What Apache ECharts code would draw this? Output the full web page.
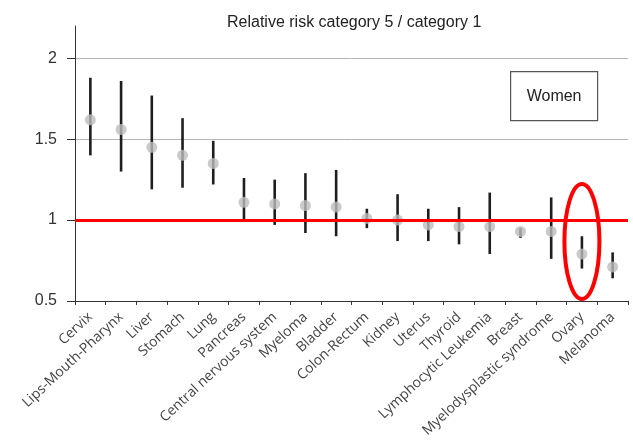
<!DOCTYPE html>
<html>
<head>
<meta charset="utf-8">
<script src="https://cdn.jsdelivr.net/npm/echarts@6/dist/echarts.min.js"></script>
<style>
  html, body { margin: 0; padding: 0; background: #fff; }
  #main { width: 633px; height: 440px; }
</style>
</head>
<body>
<div id="main"></div>
<script>
var cancers = ['Cervix', 'Lips-Mouth-Pharynx', 'Liver', 'Stomach', 'Lung', 'Pancreas',
  'Central nervous system', 'Myeloma', 'Bladder', 'Colon-Rectum', 'Kidney', 'Uterus',
  'Thyroid', 'Lymphocytic Leukemia', 'Breast', 'Myelodysplastic syndrome', 'Ovary', 'Melanoma'];
var riskRatio = [1.62, 1.56, 1.45, 1.40, 1.35, 1.11, 1.10, 1.09, 1.08, 1.01, 1.00, 0.97, 0.96, 0.96, 0.93, 0.93, 0.79, 0.71];
var ciLow  = [1.40, 1.30, 1.19, 1.20, 1.22, 1.00, 0.97, 0.92, 0.90, 0.95, 0.87, 0.87, 0.85, 0.79, 0.89, 0.76, 0.70, 0.64];
var ciHigh = [1.88, 1.86, 1.77, 1.63, 1.49, 1.26, 1.25, 1.29, 1.31, 1.07, 1.16, 1.07, 1.08, 1.17, 0.95, 1.14, 0.90, 0.80];
var yTicks = [0.5, 1, 1.5, 2];
var refLine = 1;
var highlighted = 'Ovary';

var barData = cancers.map(function (c, i) { return [i, ciLow[i], ciHigh[i]]; });

var myChart = echarts.init(document.getElementById('main'));
var option = {
  backgroundColor: '#fff',
  animation: false,
  title: {
    text: 'Relative risk category 5 / category 1',
    left: 222,
    top: 10,
    textStyle: { fontFamily: 'Liberation Sans, Arial', fontSize: 16, fontWeight: 'normal', color: '#222' }
  },
  grid: { left: 75, right: 5, top: 26, bottom: 138 },
  xAxis: {
    type: 'category',
    data: cancers,
    boundaryGap: true,
    axisLine: { lineStyle: { color: '#333', width: 1 } },
    axisTick: { show: true, interval: 0, length: 4, lineStyle: { color: '#333' } },
    axisLabel: {
      interval: 0,
      rotate: 43,
      margin: 14,
      fontFamily: 'Open Sans',
      fontSize: 14,
      color: '#444'
    },
    splitLine: { show: false }
  },
  yAxis: {
    type: 'value',
    min: 0.5,
    max: 2.2,
    interval: 0.5,
    axisLine: { show: true, lineStyle: { color: '#333', width: 1 } },
    axisTick: { show: true, length: 8, customValues: yTicks, lineStyle: { color: '#333' } },
    axisLabel: {
      customValues: yTicks,
      margin: 18,
      fontFamily: 'Liberation Sans, Arial',
      fontSize: 16,
      color: '#333'
    },
    splitLine: { show: true, showMaxLine: true, showMinLine: false, lineStyle: { color: '#b5b5b5', width: 1 } }
  },
  series: [
    {
      type: 'custom',
      data: barData,
      renderItem: function (params, api) {
        var lo = api.coord([api.value(0), api.value(1)]);
        var hi = api.coord([api.value(0), api.value(2)]);
        return {
          type: 'line',
          shape: { x1: lo[0], y1: lo[1], x2: hi[0], y2: hi[1] },
          style: { stroke: '#1e1e1e', lineWidth: 2.6 }
        };
      },
      markLine: {
        silent: true,
        symbol: 'none',
        label: { show: false },
        lineStyle: { color: '#ff0000', width: 3, type: 'solid' },
        data: [{ yAxis: refLine }]
      },
      z: 3
    },
    {
      type: 'scatter',
      data: riskRatio,
      symbol: 'circle',
      symbolSize: 11,
      itemStyle: { color: '#bdbdbd' },
      z: 4
    }
  ]
};
myChart.setOption(option);

// red ring around the highlighted category
var idx = cancers.indexOf(highlighted);
var centre = myChart.convertToPixel({ gridIndex: 0 }, [idx, 0.868]);
myChart.setOption({
  graphic: [
    {
      type: 'ellipse',
      shape: { cx: centre[0], cy: centre[1], rx: 17.5, ry: 57.5 },
      style: { fill: 'none', stroke: '#ff0000', lineWidth: 4 },
      z: 10
    },
    {
      type: 'group',
      left: 510,
      top: 71,
      children: [
        {
          type: 'rect',
          shape: { x: 0, y: 0, width: 87, height: 49 },
          style: { fill: '#fff', stroke: '#555', lineWidth: 1.2 }
        },
        {
          type: 'text',
          x: 43.5,
          y: 24.5,
          style: {
            text: 'Women',
            align: 'center',
            verticalAlign: 'middle',
            fontFamily: 'Liberation Sans, Arial',
            fontSize: 16,
            fill: '#222'
          }
        }
      ]
    }
  ]
});
</script>
</body>
</html>
